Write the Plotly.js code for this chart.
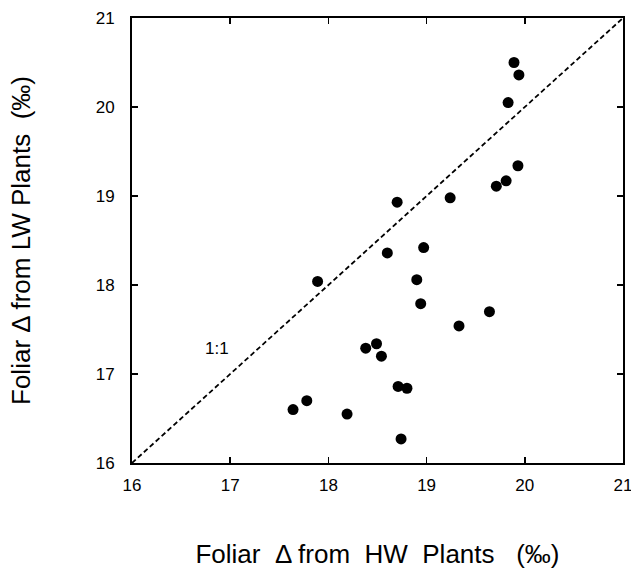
<!DOCTYPE html>
<html>
<head>
<meta charset="utf-8">
<script src="https://cdn.plot.ly/plotly-3.0.1.min.js"></script>
<style>html,body{margin:0;padding:0;background:#fff;}</style>
</head>
<body>
<div id="chart" style="width:631px;height:571px;"></div>
<script>
var hwDelta = [19.89, 19.94, 19.83, 19.93, 19.81, 19.71, 19.24, 18.70, 18.97, 18.60, 17.89, 18.90, 18.94, 19.64, 19.33, 18.49, 18.38, 18.54, 18.71, 18.80, 17.78, 17.64, 18.19, 18.74];
var lwDelta = [20.50, 20.36, 20.05, 19.34, 19.17, 19.11, 18.98, 18.93, 18.42, 18.36, 18.04, 18.06, 17.79, 17.70, 17.54, 17.34, 17.29, 17.20, 16.86, 16.84, 16.70, 16.60, 16.55, 16.27];
var oneToOne = [16, 21];
var tickVals = [16, 17, 18, 19, 20, 21];
var tickText = ['16', '17', '18', '19', '20', '21'];
var xTitle = 'Foliar\u00A0 Δ from\u00A0 HW\u00A0 Plants\u00A0\u00A0 (‰)';
var yTitle = 'Foliar Δ from LW Plants\u00A0 (‰)';

var FONT = 'Liberation Sans, Arial, sans-serif';

var traces = [
  {
    x: oneToOne, y: oneToOne, mode: 'lines', type: 'scatter',
    line: {color: '#000', width: 1.8, dash: '5px,3px'},
    hoverinfo: 'skip', showlegend: false
  },
  {
    x: hwDelta, y: lwDelta, mode: 'markers', type: 'scatter',
    marker: {color: '#000', size: 11},
    showlegend: false
  }
];

var axisCommon = {
  range: [16, 21], tickmode: 'array', tickvals: tickVals, ticktext: tickText,
  ticks: 'inside', ticklen: 6, tickwidth: 1.5, tickcolor: '#000',
  showline: true, linecolor: '#000', linewidth: 2, mirror: 'ticks',
  showgrid: false, zeroline: false, ticklabeloverflow: 'allow',
  tickfont: {family: FONT, size: 17, color: '#000'}
};

var layout = {
  width: 631, height: 571,
  margin: {l: 132, r: 8, t: 18, b: 108},
  paper_bgcolor: '#fff', plot_bgcolor: '#fff',
  xaxis: Object.assign({}, axisCommon, {
    ticklabelstandoff: 6,
    title: {text: xTitle, standoff: 50, font: {family: FONT, size: 26, color: '#000'}}
  }),
  yaxis: Object.assign({}, axisCommon, {
    ticklabelstandoff: 12,
    title: {text: yTitle, standoff: 58, font: {family: FONT, size: 26, color: '#000'}}
  }),
  annotations: [{
    x: 16.87, y: 17.29, xref: 'x', yref: 'y', text: '1:1', showarrow: false,
    font: {family: FONT, size: 17, color: '#000'}
  }]
};

Plotly.newPlot('chart', traces, layout, {displayModeBar: false, staticPlot: true});
</script>
</body>
</html>
